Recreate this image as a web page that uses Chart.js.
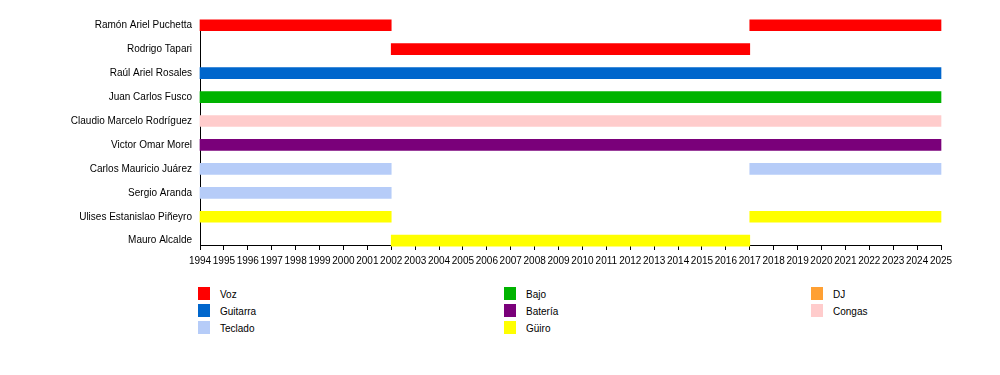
<!DOCTYPE html>
<html lang="es">
<head>
<meta charset="utf-8">
<title>Integrantes</title>
<script src="https://cdn.jsdelivr.net/npm/chart.js@4.4.1/dist/chart.umd.min.js"></script>
<style>
  body { margin: 0; background: #fff; font-family: "Liberation Sans", Arial, sans-serif; }
  #wrap { position: relative; width: 1000px; height: 375px; }
  #chart { position: absolute; left: 0; top: 0; }
  .item { position: absolute; font-size: 10px; color: #000; line-height: 13px; white-space: nowrap; }
  .item span { position: absolute; left: 0; top: 0; width: 12px; height: 13px; }
  .item b { position: absolute; left: 22px; top: 1px; font-weight: normal; }
</style>
</head>
<body>
<div id="wrap">
  <canvas id="chart" width="1000" height="280"></canvas>
</div>
<script>
// members, top to bottom
const members = [
  'Ramón Ariel Puchetta', 'Rodrigo Tapari', 'Raúl Ariel Rosales', 'Juan Carlos Fusco',
  'Claudio Marcelo Rodríguez', 'Victor Omar Morel', 'Carlos Mauricio Juárez',
  'Sergio Aranda', 'Ulises Estanislao Piñeyro', 'Mauro Alcalde'
];
const instruments = ['Voz', 'Guitarra', 'Teclado', 'Bajo', 'Batería', 'Güiro', 'DJ', 'Congas'];
const instrumentColors = ['#ff0000', '#0066cc', '#b6ccf8', '#00b300', '#7a007a', '#ffff00', '#ffa033', '#ffcccc'];

// one entry per stint
const stintMember = [0, 0, 1, 2, 3, 4, 5, 6, 6, 7, 8, 8, 9];
const stintRole   = ['Voz', 'Voz', 'Voz', 'Guitarra', 'Bajo', 'Congas', 'Batería', 'Teclado', 'Teclado', 'Teclado', 'Güiro', 'Güiro', 'Güiro'];
const stintStart  = [1994, 2017, 2002, 1994, 1994, 1994, 1994, 1994, 2017, 1994, 1994, 2017, 2002];
const stintEnd    = [2002, 2025, 2017, 2025, 2025, 2025, 2025, 2002, 2025, 2002, 2002, 2025, 2017];

const years = [];
for (let y = 1994; y <= 2025; y++) years.push(y);

// group stints into datasets (one bar per member per dataset)
const datasets = [];
stintMember.forEach((m, i) => {
  const role = stintRole[i];
  let ds = datasets.find(d => d.label === role && !d.data.some(p => p.y === m));
  if (!ds) {
    ds = {
      label: role,
      data: [],
      backgroundColor: instrumentColors[instruments.indexOf(role)],
      borderWidth: 0,
      barThickness: 11,
      grouped: false,
      clip: false
    };
    datasets.push(ds);
  }
  ds.data.push({ x: [stintStart[i], stintEnd[i]], y: m });
});

const font = { family: '"Liberation Sans", Arial, sans-serif', size: 10 };

new Chart(document.getElementById('chart'), {
  type: 'bar',
  data: { datasets: datasets },
  options: {
    responsive: false,
    animation: false,
    indexAxis: 'y',
    layout: { padding: { top: 20, right: 59, bottom: 5, left: 0 } },
    plugins: { legend: { display: false }, tooltip: { enabled: false } },
    scales: {
      x: {
        type: 'linear',
        min: 1994,
        max: 2025,
        afterBuildTicks: s => { s.ticks = years.map(v => ({ value: v })); },
        afterFit: s => { s.height = 30; },
        ticks: { autoSkip: false, maxRotation: 0, padding: 5, color: '#000', font: font,
                 callback: v => String(v) },
        grid: { drawOnChartArea: false, tickLength: 5, color: '#000' },
        border: { color: '#000', width: 1 }
      },
      y: {
        type: 'linear',
        offset: false,
        reverse: true,
        min: -0.22,
        max: 9.18,
        afterBuildTicks: s => { s.ticks = members.map((n, i) => ({ value: i })); },
        afterFit: s => { s.width = 200; },
        ticks: { padding: 8, color: '#000', font: font, callback: v => members[v] },
        grid: { display: false, drawTicks: false },
        border: { display: true, color: '#000', width: 1 }
      }
    }
  }
});

// legend, filled column by column (3 rows)
const wrap = document.getElementById('wrap');
const colX = [198, 504, 811];
const rowY = [287, 304, 321];
instruments.forEach((name, i) => {
  const el = document.createElement('div');
  el.className = 'item';
  el.style.left = colX[Math.floor(i / 3)] + 'px';
  el.style.top = rowY[i % 3] + 'px';
  el.innerHTML = '<span style="background:' + instrumentColors[i] + '"></span><b>' + name + '</b>';
  wrap.appendChild(el);
});
</script>
</body>
</html>
